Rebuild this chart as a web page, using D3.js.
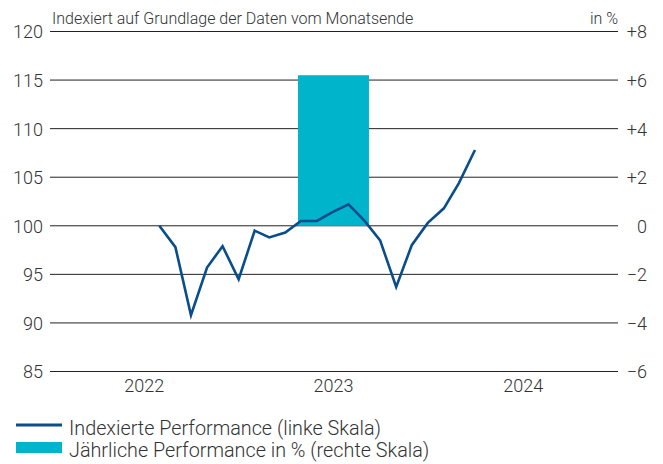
<!DOCTYPE html>
<html>
<head>
<meta charset="utf-8">
<script src="https://cdn.jsdelivr.net/npm/d3@7"></script>
<style>
  body { margin: 0; background: #fff; }
  text { font-family: Roboto, "Liberation Sans", sans-serif; font-weight: 300; fill: #333; }
</style>
</head>
<body>
<div id="figure"></div>
<script>
// data
var months = ["2022-07-31", "2022-08-31", "2022-09-30", "2022-10-31", "2022-11-30", "2022-12-31",
              "2023-01-31", "2023-02-28", "2023-03-31", "2023-04-30", "2023-05-31", "2023-06-30",
              "2023-07-31", "2023-08-31", "2023-09-30", "2023-10-31", "2023-11-30", "2023-12-31",
              "2024-01-31", "2024-02-29", "2024-03-31"];
var indexValues = [100.0, 97.8, 90.8, 95.7, 97.9, 94.5, 99.5, 98.8, 99.3, 100.5, 100.5,
                   101.4, 102.2, 100.5, 98.5, 93.7, 98.0, 100.3, 101.8, 104.4, 107.8];
var barYears = [2023];
var barValues = [6.2];
var yearLabels = ["2022", "2023", "2024"];
var leftTicks = [85, 90, 95, 100, 105, 110, 115, 120];
var rightTicks = [-6, -4, -2, 0, 2, 4, 6, 8];

var width = 663, height = 464;
var margin = {top: 31.5, right: 45, bottom: 92.5, left: 50};

var parse = d3.timeParse("%Y-%m-%d");

var svg = d3.select("#figure").append("svg")
    .attr("width", width)
    .attr("height", height);

var x = d3.scaleTime()
    .domain([new Date(2022, 0, 1), new Date(2025, 0, 1)])
    .range([margin.left, width - margin.right]);

var yLeft = d3.scaleLinear()
    .domain([85, 120])
    .range([height - margin.bottom, margin.top]);

var yRight = d3.scaleLinear()
    .domain([-6, 8])
    .range([height - margin.bottom, margin.top]);

// gridlines
svg.append("g")
  .selectAll("line")
  .data(leftTicks)
  .join("line")
    .attr("x1", x.range()[0])
    .attr("x2", x.range()[1])
    .attr("y1", d => yLeft(d))
    .attr("y2", d => yLeft(d))
    .style("stroke", "#222")
    .style("stroke-width", 1);

// bar on right scale
var yearMid = function(yr) { return x(new Date(yr, 6, 2)); };
var yearW = function(yr) { return x(new Date(yr + 1, 0, 1)) - x(new Date(yr, 0, 1)); };

svg.append("g")
  .selectAll("rect")
  .data(barYears)
  .join("rect")
    .attr("x", (d, i) => yearMid(d) - yearW(d) * 0.375 / 2)
    .attr("width", d => yearW(d) * 0.375)
    .attr("y", (d, i) => yRight(barValues[i]))
    .attr("height", (d, i) => yRight(0) - yRight(barValues[i]))
    .style("fill", "#00b4cc");

// index line
var line = d3.line()
    .x((d, i) => x(parse(months[i])))
    .y(d => yLeft(d));

svg.append("path")
    .datum(indexValues)
    .attr("d", line)
    .style("fill", "none")
    .style("stroke", "#0a4d8c")
    .style("stroke-width", 2.6)
    .style("stroke-linejoin", "miter");

// left axis
var leftAxis = d3.axisLeft(yLeft).tickValues(leftTicks).tickSize(0).tickPadding(7);
var gl = svg.append("g")
    .attr("transform", "translate(" + margin.left + ",0)")
    .call(leftAxis);
gl.select(".domain").remove();
gl.selectAll("text")
    .style("font-size", "18px")
    .attr("dy", "0.36em");

// right axis
var fmt = function(d) { return d > 0 ? "+" + d : d < 0 ? "\u2212" + Math.abs(d) : "0"; };
var rightAxis = d3.axisRight(yRight).tickValues(rightTicks).tickSize(0).tickFormat(fmt);
var gr = svg.append("g")
    .attr("transform", "translate(" + (width - margin.right) + ",0)")
    .call(rightAxis);
gr.select(".domain").remove();
gr.selectAll("text")
    .attr("x", 29)
    .attr("text-anchor", "end")
    .style("font-size", "18px")
    .attr("dy", "0.36em");

// year labels
svg.append("g")
  .selectAll("text")
  .data(yearLabels)
  .join("text")
    .attr("x", d => yearMid(+d))
    .attr("y", 392)
    .attr("text-anchor", "middle")
    .style("font-size", "18px")
    .text(d => d);

// header texts
svg.append("text")
    .attr("x", 52)
    .attr("y", 24)
    .style("font-size", "16px")
    .text("Indexiert auf Grundlage der Daten vom Monatsende");

svg.append("text")
    .attr("x", width - margin.right)
    .attr("y", 24)
    .attr("text-anchor", "end")
    .style("font-size", "16px")
    .text("in %");

// legend
var legend = svg.append("g");
legend.append("line")
    .attr("x1", 16).attr("x2", 62)
    .attr("y1", 425).attr("y2", 425)
    .style("stroke", "#0a4d8c")
    .style("stroke-width", 3);
legend.append("text")
    .attr("x", 69).attr("y", 435)
    .style("font-size", "19.8px")
    .text("Indexierte Performance (linke Skala)");
legend.append("rect")
    .attr("x", 16).attr("y", 442)
    .attr("width", 46).attr("height", 11)
    .style("fill", "#00b4cc");
legend.append("text")
    .attr("x", 69).attr("y", 457)
    .style("font-size", "19.8px")
    .text("Jährliche Performance in % (rechte Skala)");
</script>
</body>
</html>
